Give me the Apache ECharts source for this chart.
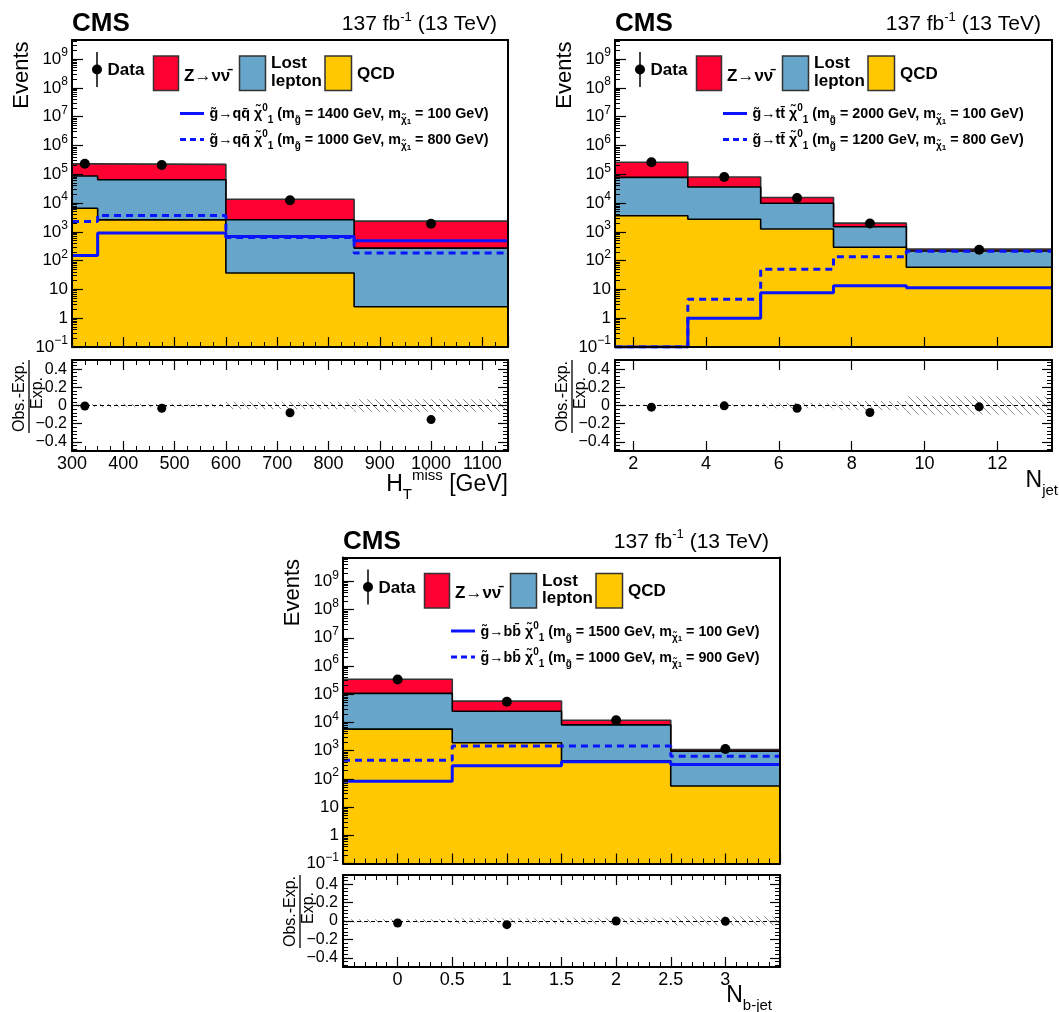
<!DOCTYPE html>
<html><head><meta charset="utf-8">
<script src="https://cdn.jsdelivr.net/npm/echarts@6/dist/echarts.min.js"></script>
<style>html,body{margin:0;padding:0;background:#fff}#c{width:1059px;height:1012px}</style>
</head><body><div id="c"></div>
<script>
// ---------------- DATA ----------------
// Panel 1: H_T^miss
const htEdges = [300, 350, 600, 850, 1150];
const htDataX = [325, 475, 725, 1000];
const htData = [230000, 210000, 12500, 1900];
const htZnn = [143000, 155000, 10900, 2080];
const htLostLep = [80000, 62000, 2600, 270];
const htQCD = [6600, 2600, 37, 2.5];
const htSigSolid = [152, 910, 690, 490];
const htSigDashed = [2300, 3700, 640, 185];
const htRatio = [-0.005, -0.03, -0.08, -0.155];
const htUnc = [0.015, 0.02, 0.04, 0.07];
const htTickLabels = [300, 400, 500, 600, 700, 800, 900, 1000, 1100];
const htSigText = ['q\u0071\u0304', '1400', '100', '1000', '800'];

// Panel 2: N_jet
const njEdges = [1.5, 3.5, 5.5, 7.5, 9.5, 13.5];
const njDataX = [2.5, 4.5, 6.5, 8.5, 11.5];
const njData = [260000, 80000, 15000, 1950, 240];
const njZnn = [182000, 44000, 5700, 500, 35];
const njLostLep = [74400, 33250, 8550, 1210, 156];
const njQCD = [3600, 2750, 1250, 290, 59];
const njSigSolid = [0.1, 1.0, 7.6, 13.5, 11.5];
const njSigDashed = [0.1, 4.6, 50, 135, 210];
const njRatio = [-0.018, -0.004, -0.03, -0.077, -0.015];
const njUnc = [0.01, 0.015, 0.03, 0.05, 0.1];
const njTickLabels = [2, 4, 6, 8, 10, 12];
const njSigText = ['t\u0074\u0304', '2000', '100', '1200', '800'];

// Panel 3: N_b-jet
const nbEdges = [-0.5, 0.5, 1.5, 2.5, 3.5];
const nbDataX = [0, 1, 2, 3];
const nbData = [330000, 54000, 12000, 1150];
const nbZnn = [233000, 32000, 3800, 140];
const nbLostLep = [101200, 23100, 7765, 904];
const nbQCD = [5800, 1900, 435, 56];
const nbSigSolid = [83, 290, 400, 325];
const nbSigDashed = [460, 1450, 1450, 630];
const nbRatio = [-0.022, -0.04, 0, -0.004];
const nbUnc = [0.02, 0.03, 0.035, 0.05];
const nbTickLabels = [0, 0.5, 1, 1.5, 2, 2.5, 3];
const nbSigText = ['b\u0062\u0304', '1500', '100', '1000', '900'];

const logExps = [-1, 0, 1, 2, 3, 4, 5, 6, 7, 8, 9];
const ratioTicks = [-0.4, -0.2, 0, 0.2, 0.4];
const ratioMinor = [-0.48,-0.44,-0.4,-0.36,-0.32,-0.28,-0.24,-0.2,-0.16,-0.12,-0.08,-0.04,0,0.04,0.08,0.12,0.16,0.2,0.24,0.28,0.32,0.36,0.4,0.44,0.48];

// ---------------- STYLE ----------------
const FONT = '"Liberation Sans", Arial, Helvetica, sans-serif';
const RED = '#ff0033', BLUE = '#67a6ca', YEL = '#ffc800', SIG = '#0a14ff';
const G = 'g\u0303', CHI = '\u03c7\u0303', ARROW = '\u2192';

const hatchCanvas = document.createElement('canvas');
hatchCanvas.width = 8; hatchCanvas.height = 8;
(function () {
  const c = hatchCanvas.getContext('2d');
  c.strokeStyle = '#8a8a8a'; c.lineWidth = 1;
  c.beginPath();
  c.moveTo(0, 0); c.lineTo(8, 8);
  c.moveTo(-1, 7); c.lineTo(1, 9);
  c.moveTo(7, -1); c.lineTo(9, 1);
  c.stroke();
})();
const hatchPattern = { image: hatchCanvas, repeat: 'repeat' };

function stepPts(edges, vals) {
  const pts = vals.map((v, i) => [edges[i], v]);
  pts.push([edges[edges.length - 1], vals[vals.length - 1]]);
  return pts;
}
function cum() {
  const arrs = Array.prototype.slice.call(arguments);
  return arrs[0].map((_, i) => arrs.reduce((s, a) => s + a[i], 0));
}
function rs(size, bold, va, lh) {
  return { fontSize: size, fontFamily: FONT, fontWeight: bold ? 'bold' : 'normal', fill: '#000', color: '#000', verticalAlign: va || 'middle', lineHeight: lh };
}
function txt(x, y, text, o) {
  o = o || {};
  const st = { text: text, fontSize: o.size || 16, fontFamily: FONT, fontWeight: o.bold ? 'bold' : 'normal',
    fill: '#000', textFill: '#000', align: o.align || 'left', textAlign: o.align || 'left',
    verticalAlign: 'middle', textVerticalAlign: 'middle' };
  if (o.rich) st.rich = o.rich;
  return { type: 'text', x: x, y: y, rotation: o.rot || 0, silent: true, z: 100, style: st };
}
function logFmt(v) {
  const n = Math.round(v);
  if (n === 0) return '1';
  if (n === 1) return '10';
  return '{b|10}{s|' + (n < 0 ? '\u2212' + (-n) : n) + '}';
}
function ratioFmt(v) {
  if (Math.abs(v) < 1e-9) return '0';
  return v < 0 ? '\u2212' + (+(-v).toFixed(1)) : String(+v.toFixed(1));
}
function xFmt(v) { return String(+(+v).toFixed(2)); }

const option = { animation: false, backgroundColor: '#fff', grid: [], xAxis: [], yAxis: [], series: [], graphic: [] };
const TICK = { color: '#000', width: 1.2 };
const LINE = { color: '#000', width: 2 };

function xAx(gi, pos, p, labels, ticks) {
  const a = { type: 'value', gridIndex: gi, position: pos, min: p.xMin, max: p.xMax, z: 10,
    axisLine: { show: true, onZero: false, lineStyle: LINE },
    axisTick: { show: ticks, inside: true, length: 10, lineStyle: TICK },
    minorTick: { show: ticks && p.xMinor > 0, splitNumber: p.xMinor || 5, length: 5, lineStyle: { color: '#000', width: 1 } },
    axisLabel: { show: labels, customValues: p.xLabels, formatter: xFmt, color: '#000', fontSize: 18, fontFamily: FONT, margin: 4 },
    splitLine: { show: false }, minorSplitLine: { show: false } };
  if (p.xInterval) a.interval = p.xInterval; else a.axisTick.customValues = p.xLabels;
  return a;
}

function buildPanel(p) {
  const g0 = option.grid.length, g1 = g0 + 1;
  option.grid.push({ left: p.L, top: p.T, width: p.W, height: p.H, show: false, outerBoundsMode: 'none' });
  option.grid.push({ left: p.L, top: p.RT, width: p.W, height: p.RH, show: false, outerBoundsMode: 'none' });
  const xi = option.xAxis.length;
  option.xAxis.push(xAx(g0, 'bottom', p, false, true));
  option.xAxis.push(xAx(g0, 'top', p, false, false));
  option.xAxis.push(xAx(g1, 'bottom', p, true, true));
  option.xAxis.push(xAx(g1, 'top', p, false, true));
  const yi = option.yAxis.length;
  const lmax = Math.log10(p.yMax);
  const minors = [];
  logExps.forEach(n => { for (let k = 2; k <= 9; k++) { const v = n + Math.log10(k); if (v < lmax) minors.push(v); } });
  // log data axis (hidden)
  option.yAxis.push({ type: 'log', logBase: 10, gridIndex: g0, position: 'left', min: 0.1, max: p.yMax, show: false,
    axisLine: { show: false, onZero: false } });
  // decorative exponent axes
  option.yAxis.push({ type: 'value', gridIndex: g0, position: 'left', min: -1, max: lmax, z: 10,
    axisLine: { show: true, onZero: false, lineStyle: LINE },
    axisTick: { show: true, inside: true, length: 11, customValues: logExps, lineStyle: TICK },
    axisLabel: { show: true, customValues: logExps, formatter: logFmt, margin: 4, color: '#000', fontSize: 17, fontFamily: FONT,
      rich: { b: rs(17, false, 'middle', 24), s: rs(12, false, 'top', 12) } },
    splitLine: { show: false } });
  option.yAxis.push({ type: 'value', gridIndex: g0, position: 'left', min: -1, max: lmax, z: 10,
    axisLine: { show: false, onZero: false }, axisTick: { show: true, inside: true, length: 5, customValues: minors, lineStyle: { color: '#000', width: 1 } },
    axisLabel: { show: false }, splitLine: { show: false } });
  option.yAxis.push({ type: 'value', gridIndex: g0, position: 'right', min: -1, max: lmax, z: 10,
    axisLine: { show: true, onZero: false, lineStyle: LINE }, axisTick: { show: false }, axisLabel: { show: false }, splitLine: { show: false } });
  const ri = option.yAxis.length;
  ['left', 'right'].forEach(pos => {
    option.yAxis.push({ type: 'value', gridIndex: g1, position: pos, min: -0.5, max: 0.5, z: 10,
      axisLine: { show: true, onZero: false, lineStyle: LINE },
      axisTick: { show: true, inside: true, length: 10, customValues: ratioTicks, lineStyle: TICK },
      axisLabel: { show: pos === 'left', customValues: ratioTicks, formatter: ratioFmt, color: '#000', fontSize: 16, fontFamily: FONT, margin: 5 },
      splitLine: { show: false } });
    option.yAxis.push({ type: 'value', gridIndex: g1, position: pos, min: -0.5, max: 0.5, z: 10,
      axisLine: { show: false, onZero: false }, axisTick: { show: true, inside: true, length: 5, customValues: ratioMinor, lineStyle: { color: '#000', width: 1 } },
      axisLabel: { show: false }, splitLine: { show: false } });
  });

  const tot = cum(p.qcd, p.lost, p.znn), llq = cum(p.qcd, p.lost);
  const area = (vals, color, lc, z) => ({ type: 'line', xAxisIndex: xi, yAxisIndex: yi, step: 'end', data: stepPts(p.edges, vals),
    symbol: 'none', showSymbol: false, silent: true, z: z, lineStyle: { color: lc, width: 1.6 },
    areaStyle: { color: color, opacity: 1, origin: 'start' } });
  option.series.push(area(tot, RED, '#333', 2));
  option.series.push(area(llq, BLUE, '#000', 3));
  option.series.push(area(p.qcd, YEL, '#000', 4));
  option.series.push({ type: 'line', xAxisIndex: xi, yAxisIndex: yi, step: 'end', data: stepPts(p.edges, p.sigS), symbol: 'none', silent: true, z: 5,
    lineStyle: { color: SIG, width: 3 } });
  option.series.push({ type: 'line', xAxisIndex: xi, yAxisIndex: yi, step: 'end', data: stepPts(p.edges, p.sigD), symbol: 'none', silent: true, z: 5,
    lineStyle: { color: SIG, width: 3, type: [7, 5] } });
  option.series.push({ type: 'scatter', xAxisIndex: xi, yAxisIndex: yi, data: p.dataX.map((x, i) => [x, p.data[i]]), symbolSize: 10,
    itemStyle: { color: '#000', opacity: 1 }, silent: true, z: 6 });

  // ratio
  option.series.push({ type: 'custom', xAxisIndex: xi + 2, yAxisIndex: ri, silent: true, z: 2,
    data: p.unc.map((u, i) => [p.edges[i], p.edges[i + 1], u]), encode: { x: [0, 1], y: 2 },
    renderItem: function (params, api) {
      const a = api.coord([api.value(0), api.value(2)]);
      const b = api.coord([api.value(1), -api.value(2)]);
      return { type: 'rect', shape: { x: a[0], y: a[1], width: b[0] - a[0], height: b[1] - a[1] }, style: { fill: hatchPattern } };
    } });
  option.series.push({ type: 'scatter', xAxisIndex: xi + 2, yAxisIndex: ri, data: p.dataX.map((x, i) => [x, p.ratio[i]]), symbolSize: 9,
    itemStyle: { color: '#000', opacity: 1 }, silent: true, z: 6,
    markLine: { silent: true, symbol: ['none', 'none'], label: { show: false }, animation: false,
      lineStyle: { color: '#000', width: 1, type: [4, 3] }, data: [{ yAxis: 0 }] } });

  // texts & legend
  const L = p.L, T = p.T, R = p.L + p.W;
  const gr = option.graphic;
  gr.push(txt(L, T - 16, 'CMS', { size: 26, bold: true }));
  gr.push(txt(R - 11, T - 15.5, '{n|137 fb}{s|-1}{n| (13 TeV)}', { align: 'right', rich: { n: rs(21, false, 'middle', 28), s: rs(13, false, 'top', 13) } }));
  gr.push(txt(L - 50.5, T + 1.5, 'Events', { size: 22, rot: Math.PI / 2, align: 'right' }));
  gr.push(txt(L - 52, p.RT + 36.5, 'Obs.-Exp.', { size: 16, rot: Math.PI / 2, align: 'center' }));
  gr.push({ type: 'line', silent: true, z: 100, shape: { x1: L - 43, y1: p.RT, x2: L - 43, y2: p.RT + 73 }, style: { stroke: '#000', lineWidth: 1.3 } });
  gr.push(txt(L - 34, p.RT + 33, 'Exp.', { size: 16, rot: Math.PI / 2, align: 'center' }));
  gr.push(txt(p.xTitleX, p.xTitleY, p.xTitle, { align: 'right', rich: { b: rs(23, false, 'middle', 34), d: rs(15, false, 'bottom', 15), p: rs(15, false, 'top', 15) } }));
  // legend row 1
  gr.push({ type: 'line', silent: true, z: 100, shape: { x1: L + 25, y1: T + 12, x2: L + 25, y2: T + 47 }, style: { stroke: '#000', lineWidth: 1.5 } });
  gr.push({ type: 'circle', silent: true, z: 100, shape: { cx: L + 25, cy: T + 29.5, r: 5 }, style: { fill: '#000' } });
  gr.push(txt(L + 35.5, T + 30.5, 'Data', { size: 17, bold: true }));
  const box = (x, w, c) => ({ type: 'rect', silent: true, z: 100, shape: { x: x, y: T + 16, width: w, height: 34.5 }, style: { fill: c, stroke: '#333', lineWidth: 1.5 } });
  gr.push(box(L + 81.5, 25, RED));
  gr.push(txt(L + 112, T + 36, 'Z' + ARROW + '\u03bd\u03bd\u0304', { size: 17, bold: true }));
  gr.push(box(L + 167.5, 26, BLUE));
  gr.push(txt(L + 199, T + 23.5, 'Lost', { size: 17, bold: true }));
  gr.push(txt(L + 199, T + 41, 'lepton', { size: 17, bold: true }));
  gr.push(box(L + 253, 26.5, YEL));
  gr.push(txt(L + 285, T + 34, 'QCD', { size: 17, bold: true }));
  // signal legend
  const srich = { b: rs(14.3, true, 'middle', 22), p: rs(10, true, 'top', 10), d: rs(10, true, 'bottom', 10), t: rs(8, true, 'bottom', 8) };
  const s = p.sigText;
  const lab = (mg, mc) => '{b|' + G + ARROW + s[0] + ' ' + CHI + '}{p|0}{d|1}{b| (m}{d|' + G + '}{b| = ' + mg + ' GeV, m}{d|' + CHI + '}{t|1}{b| = ' + mc + ' GeV)}';
  gr.push({ type: 'line', silent: true, z: 100, shape: { x1: L + 108, y1: T + 73.5, x2: L + 132, y2: T + 73.5 }, style: { stroke: SIG, lineWidth: 3 } });
  gr.push(txt(L + 137.5, T + 74.5, lab(s[1], s[2]), { rich: srich }));
  gr.push({ type: 'line', silent: true, z: 100, shape: { x1: L + 108, y1: T + 99.5, x2: L + 132, y2: T + 99.5 }, style: { stroke: SIG, lineWidth: 3, lineDash: [6, 4] } });
  gr.push(txt(L + 137.5, T + 100.5, lab(s[3], s[4]), { rich: srich }));
}

buildPanel({ L: 72, T: 40, W: 436, H: 307, RT: 360, RH: 91, yMax: 4.6e9, xMin: 300, xMax: 1150, xInterval: 100, xMinor: 4, xLabels: htTickLabels,
  edges: htEdges, dataX: htDataX, data: htData, znn: htZnn, lost: htLostLep, qcd: htQCD, sigS: htSigSolid, sigD: htSigDashed,
  ratio: htRatio, unc: htUnc, sigText: htSigText, xTitle: '{b|H}{d|T}{p|miss}{b| [GeV]}', xTitleX: 508, xTitleY: 485 });
buildPanel({ L: 615, T: 40, W: 437, H: 307, RT: 360, RH: 91, yMax: 4.6e9, xMin: 1.5, xMax: 13.5, xInterval: 0, xMinor: 0, xLabels: njTickLabels,
  edges: njEdges, dataX: njDataX, data: njData, znn: njZnn, lost: njLostLep, qcd: njQCD, sigS: njSigSolid, sigD: njSigDashed,
  ratio: njRatio, unc: njUnc, sigText: njSigText, xTitle: '{b|N}{d|jet}', xTitleX: 1058, xTitleY: 481 });
buildPanel({ L: 343, T: 557.5, W: 437, H: 306, RT: 875, RH: 92, yMax: 7e9, xMin: -0.5, xMax: 3.5, xInterval: 0.5, xMinor: 5, xLabels: nbTickLabels,
  edges: nbEdges, dataX: nbDataX, data: nbData, znn: nbZnn, lost: nbLostLep, qcd: nbQCD, sigS: nbSigSolid, sigD: nbSigDashed,
  ratio: nbRatio, unc: nbUnc, sigText: nbSigText, xTitle: '{b|N}{d|b-jet}', xTitleX: 772, xTitleY: 996 });

const chart = echarts.init(document.getElementById('c'), null, { renderer: 'canvas' });
chart.setOption(option);
</script></body></html>
